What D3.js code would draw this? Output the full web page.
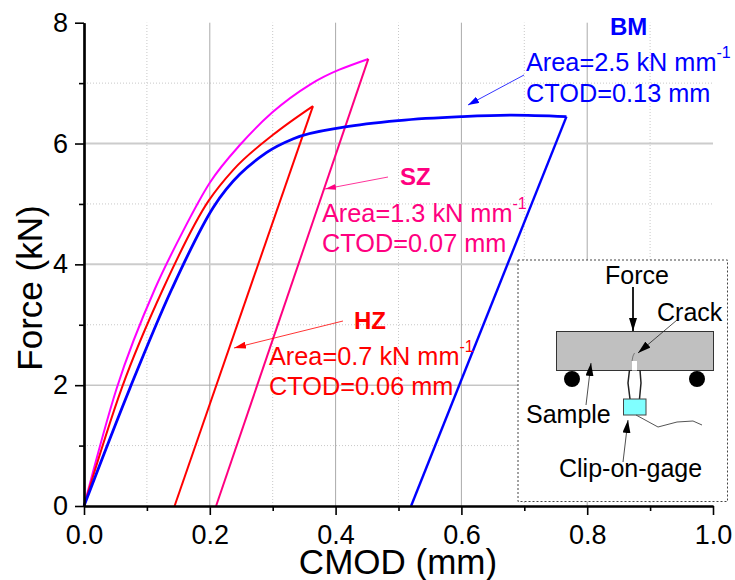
<!DOCTYPE html>
<html>
<head>
<meta charset="utf-8">
<script src="https://cdn.jsdelivr.net/npm/d3@7"></script>
<style>
  html, body { margin: 0; padding: 0; background: #fff; }
  svg { display: block; }
  text { font-family: "Liberation Sans", Arial, sans-serif; }
</style>
</head>
<body>
<div id="chart"></div>
<script>
// Loading curves and unloading lines [CMOD, force]
const bmLoad = [[0,0],[0.073,1.95],[0.14,3.6],[0.206,4.95],[0.29,5.85],[0.333,6.08],[0.413,6.27],[0.5,6.38],[0.6,6.445],[0.68,6.47],[0.767,6.445]];
const bmUnload = [[0.767,6.445],[0.52,0]];
const hzLoad = [[0,0],[0.06,1.95],[0.126,3.6],[0.198,5.05],[0.237,5.56],[0.3,6.14],[0.364,6.62]];
const hzUnload = [[0.364,6.62],[0.144,0]];
const szLoad = [[0,0],[0.052,1.95],[0.113,3.6],[0.155,4.5],[0.2,5.35],[0.25,6.0],[0.3,6.52],[0.36,6.98],[0.452,7.4]];
const szUnload = [[0.452,7.4],[0.21,0]];

const xMajor = [0, 0.2, 0.4, 0.6, 0.8, 1.0];
const xMinor = [0.1, 0.3, 0.5, 0.7, 0.9];
const yMajor = [0, 2, 4, 6, 8];
const yMinor = [1, 3, 5, 7];

const blue = '#0000ff', red = '#ff0000', pink = '#ff0080', magenta = '#ff00ff';

const width = 735, height = 580;
const svg = d3.select('#chart').append('svg').attr('width', width).attr('height', height);

const x = d3.scaleLinear().domain([0, 1]).range([84, 713]);
const y = d3.scaleLinear().domain([0, 8]).range([506, 22.7]);

// Arrow heads
function addMarker(id, color, w, h) {
    svg.append('defs').append('marker')
        .attr('id', id)
        .attr('viewBox', `0 0 ${w} ${h}`)
        .attr('refX', w).attr('refY', h / 2)
        .attr('markerUnits', 'userSpaceOnUse')
        .attr('markerWidth', w).attr('markerHeight', h)
        .attr('orient', 'auto-start-reverse')
        .append('path')
        .attr('d', `M0,0L${w},${h / 2}L0,${h}Z`)
        .attr('fill', color);
}
addMarker('arrow-blue', blue, 11, 7);
addMarker('arrow-pink', pink, 11, 6);
addMarker('arrow-red', red, 12, 7);
addMarker('arrow-black', '#000', 13, 8);

// Grid
const grid = svg.append('g');
grid.selectAll('.vminor').data(xMinor).enter().append('line')
    .attr('x1', d => x(d)).attr('x2', d => x(d))
    .attr('y1', y(0)).attr('y2', y(8))
    .attr('stroke', '#c8c8c8').attr('stroke-width', 1).attr('stroke-dasharray', '1 2');
grid.selectAll('.hminor').data(yMinor).enter().append('line')
    .attr('x1', x(0)).attr('x2', x(1))
    .attr('y1', d => y(d)).attr('y2', d => y(d))
    .attr('stroke', '#c8c8c8').attr('stroke-width', 1).attr('stroke-dasharray', '1 2');
grid.selectAll('.vmajor').data(xMajor.slice(1, 5)).enter().append('line')
    .attr('x1', d => x(d)).attr('x2', d => x(d))
    .attr('y1', y(0)).attr('y2', y(8))
    .attr('stroke', '#aaaaaa').attr('stroke-width', 1);
grid.selectAll('.hmajor').data(yMajor.slice(1, 4)).enter().append('line')
    .attr('x1', x(0)).attr('x2', x(1))
    .attr('y1', d => y(d)).attr('y2', d => y(d))
    .attr('stroke', d => d === 2 ? '#aaaaaa' : '#cccccc')
    .attr('stroke-width', d => d === 2 ? 1 : 2);

// Inset box sits over the grid
const inset = svg.append('g');
inset.append('rect').attr('x', 518).attr('y', 260).attr('width', 209.5).attr('height', 241.5)
    .attr('fill', '#fff').attr('stroke', '#444').attr('stroke-width', 1).attr('stroke-dasharray', '2 2');
inset.append('rect').attr('x', 556.5).attr('y', 331.5).attr('width', 157).attr('height', 39)
    .attr('fill', '#c0c0c0').attr('stroke', '#333').attr('stroke-width', 1);
inset.append('rect').attr('x', 632).attr('y', 361).attr('width', 5).attr('height', 9.5).attr('fill', '#fff');
inset.append('path').attr('d', 'M632,361L633,356L634.5,353').attr('fill', 'none').attr('stroke', '#777').attr('stroke-width', 1);
inset.selectAll('.roller').data([572, 697]).enter().append('circle')
    .attr('cx', d => d).attr('cy', 379).attr('r', 8).attr('fill', '#000');
inset.append('path').attr('d', 'M629.5,370L628,383L630,399M640,370L641,383L639.5,399')
    .attr('fill', 'none').attr('stroke', '#222').attr('stroke-width', 1.5);
inset.append('rect').attr('x', 623.5).attr('y', 399).attr('width', 22.5).attr('height', 16)
    .attr('fill', '#80ffff').attr('stroke', '#444').attr('stroke-width', 1);
inset.append('path').attr('d', 'M636,415L658,427L677,422L693,421L702,425')
    .attr('fill', 'none').attr('stroke', '#555').attr('stroke-width', 1);

const insetArrows = [
    {from: [633, 287], to: [633, 331], w: 2},
    {from: [677, 320], to: [638, 353], w: 0.8},
    {from: [586, 405], to: [591, 363], w: 0.8},
    {from: [623, 462], to: [628, 420], w: 0.8}
];
inset.selectAll('.arrow').data(insetArrows).enter().append('line')
    .attr('x1', d => d.from[0]).attr('y1', d => d.from[1])
    .attr('x2', d => d.to[0]).attr('y2', d => d.to[1])
    .attr('stroke', '#222').attr('stroke-width', d => d.w)
    .attr('marker-end', 'url(#arrow-black)');

const insetLabels = [
    {text: 'Force', x: 605, y: 284},
    {text: 'Crack', x: 657, y: 321},
    {text: 'Sample', x: 526, y: 423},
    {text: 'Clip-on-gage', x: 559, y: 477}
];
inset.selectAll('.lbl').data(insetLabels).enter().append('text')
    .attr('x', d => d.x).attr('y', d => d.y)
    .attr('font-size', 25).attr('fill', '#000')
    .text(d => d.text);

// Curves
const loadLine = d3.line().x(d => x(d[0])).y(d => y(d[1])).curve(d3.curveMonotoneX);
const curves = [
    {data: szLoad, color: magenta, w: 2},
    {data: szUnload, color: pink, w: 2},
    {data: hzLoad, color: red, w: 2},
    {data: hzUnload, color: red, w: 2},
    {data: bmLoad, color: blue, w: 2.8},
    {data: bmUnload, color: blue, w: 2.4}
];
svg.append('g').selectAll('path').data(curves).enter().append('path')
    .attr('d', d => loadLine(d.data))
    .attr('fill', 'none')
    .attr('stroke', d => d.color)
    .attr('stroke-width', d => d.w)
    .attr('stroke-linejoin', 'miter');

// Axes
svg.append('g').attr('transform', `translate(0,${y(0)})`)
    .call(d3.axisBottom(x).tickValues(xMajor).tickFormat(d3.format('.1f')).tickSize(9).tickSizeOuter(0).tickPadding(10));
svg.append('g').attr('transform', `translate(0,${y(0)})`)
    .call(d3.axisBottom(x).tickValues(xMinor).tickFormat('').tickSize(5).tickSizeOuter(0));
svg.append('g').attr('transform', `translate(${x(0)},0)`)
    .call(d3.axisLeft(y).tickValues(yMajor).tickFormat(d3.format('d')).tickSize(9).tickSizeOuter(0).tickPadding(7));
svg.append('g').attr('transform', `translate(${x(0)},0)`)
    .call(d3.axisLeft(y).tickValues(yMinor).tickFormat('').tickSize(5).tickSizeOuter(0));
svg.selectAll('.domain').attr('stroke', '#000').attr('stroke-width', 2.2);
svg.selectAll('.tick line').attr('stroke', '#000').attr('stroke-width', 1.6);
svg.selectAll('.tick text').attr('font-size', 27).attr('fill', '#000')
    .attr('font-family', '"Liberation Sans", Arial, sans-serif');

svg.append('text').attr('x', 398).attr('y', 574).attr('text-anchor', 'middle')
    .attr('font-size', 35).text('CMOD (mm)');
svg.append('text').attr('transform', 'translate(42,288) rotate(-90)').attr('text-anchor', 'middle')
    .attr('font-size', 35).text('Force (kN)');

// Annotations
const notes = [
    {name: 'BM', nameX: 610, nameY: 35, color: blue, x: 526, y1: 71, y2: 102, area: 'Area=2.5 kN mm', ctod: 'CTOD=0.13 mm', line: [[524, 75], [468, 105]], marker: 'arrow-blue'},
    {name: 'SZ', nameX: 400, nameY: 185, color: pink, x: 322, y1: 222, y2: 252, area: 'Area=1.3 kN mm', ctod: 'CTOD=0.07 mm', line: [[388, 177], [325, 189]], marker: 'arrow-pink'},
    {name: 'HZ', nameX: 354, nameY: 329, color: red, x: 269, y1: 365, y2: 395, area: 'Area=0.7 kN mm', ctod: 'CTOD=0.06 mm', line: [[343, 321], [234, 348]], marker: 'arrow-red'}
];
const noteG = svg.append('g').selectAll('g').data(notes).enter().append('g').attr('fill', d => d.color);
noteG.append('line')
    .attr('x1', d => d.line[0][0]).attr('y1', d => d.line[0][1])
    .attr('x2', d => d.line[1][0]).attr('y2', d => d.line[1][1])
    .attr('stroke', d => d.color).attr('stroke-width', 0.8)
    .attr('marker-end', d => `url(#${d.marker})`);
noteG.append('text').attr('x', d => d.nameX).attr('y', d => d.nameY)
    .attr('font-size', 24).attr('font-weight', 'bold').text(d => d.name);
const areaText = noteG.append('text').attr('x', d => d.x).attr('y', d => d.y1).attr('font-size', 25.3);
areaText.append('tspan').text(d => d.area);
areaText.append('tspan').attr('font-size', 16).attr('dy', -13).text('-1');
noteG.append('text').attr('x', d => d.x).attr('y', d => d.y2).attr('font-size', 25.3).text(d => d.ctod);
</script>
</body>
</html>
